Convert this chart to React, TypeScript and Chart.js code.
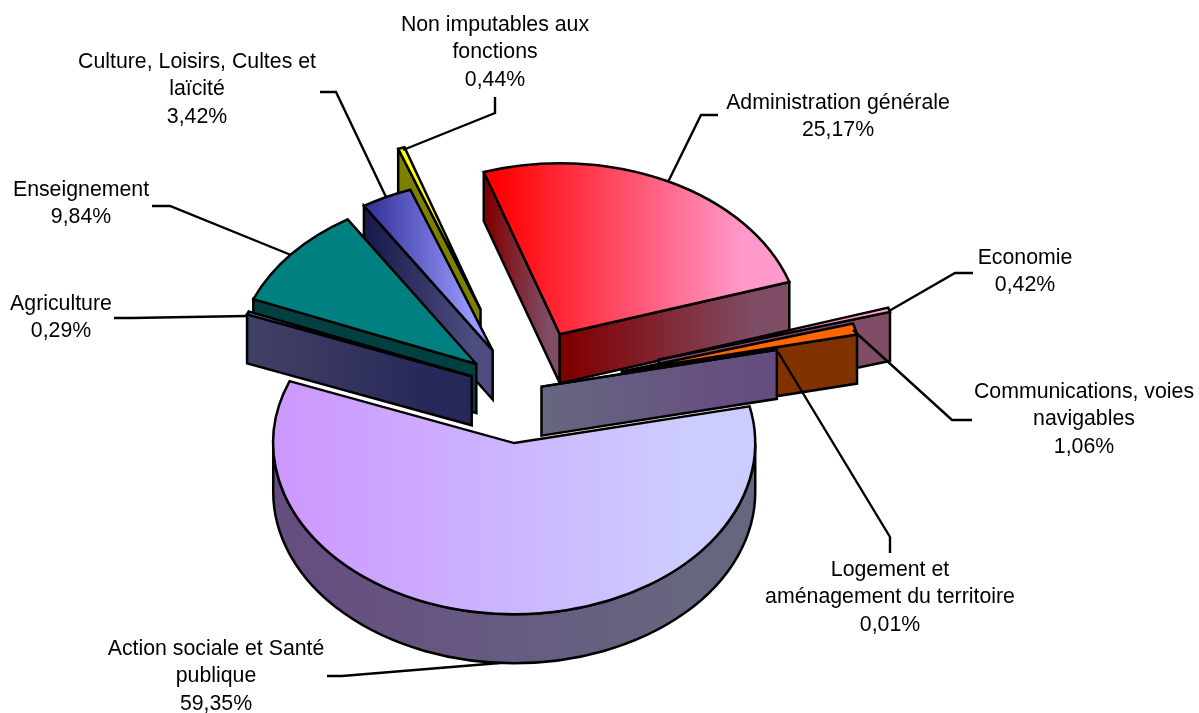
import React, { useEffect, useRef } from "react";
import { Chart, registerables } from "chart.js";

Chart.register(...registerables);

// ---------- data ----------
const categories: string[][] = [
  ["Administration générale"],
  ["Economie"],
  ["Communications, voies", "navigables"],
  ["Logement et", "aménagement du territoire"],
  ["Action sociale et Santé", "publique"],
  ["Agriculture"],
  ["Enseignement"],
  ["Culture, Loisirs, Cultes et", "laïcité"],
  ["Non imputables aux", "fonctions"],
];
const shares = [25.17, 0.42, 1.06, 0.01, 59.35, 0.29, 9.84, 3.42, 0.44];
const colorsFrom = ["#ff0000", "#ff99cc", "#ff6600", "#ccccff", "#cc99ff", "#8080cc", "#008080", "#333399", "#ffff00"];
const colorsTo = ["#ff99cc", "#ff99cc", "#ff6600", "#cc99ff", "#ccccff", "#4d4db0", "#008080", "#9999ff", "#ffff00"];

// ---------- presentation ----------
const explodePx = [88, 145, 105, 22, 75, 52, 57, 62, 120];
const paintOrder = [8, 7, 6, 5, 0, 1, 2, 3, 4];
const TILT = 0.71;
const DEPTH = 49;
const RADIUS = 241;
const FONT = '21.3px "Liberation Sans", Arial, sans-serif';
const LINE_H = 27.5;
const GRAD_START = 0.04;
const GRAD_END = 0.85;
const labelCenters: [number, number][] = [
  [838, 103], [1025, 258], [1084, 392], [890, 570], [216, 649], [61, 304], [81, 190], [197, 62], [495, 25],
];
const leaders: [number, number][][] = [
  [[668, 182], [701, 115], [718, 115]],
  [[889, 311], [955, 273], [973, 273]],
  [[853, 330], [952, 420], [972, 420]],
  [[778, 352], [890, 537], [890, 553]],
  [[500, 663], [342, 676], [327, 676]],
  [[247, 316], [131, 318], [114, 318]],
  [[291, 255], [170, 206], [152, 206]],
  [[386, 197], [336, 92], [320, 92]],
  [[403, 150], [495, 113], [495, 97]],
];

const half = (hex: string) => {
  const n = parseInt(hex.slice(1), 16);
  const p = (v: number) => Math.round(v / 2).toString(16).padStart(2, "0");
  return "#" + p((n >> 16) & 255) + p((n >> 8) & 255) + p(n & 255);
};

function hGrad(ctx: CanvasRenderingContext2D, x0: number, x1: number, a: string, b: string) {
  const g = ctx.createLinearGradient(x0, 0, x1 > x0 ? x1 : x0 + 1, 0);
  g.addColorStop(GRAD_START, a);
  g.addColorStop(GRAD_END, b);
  return g;
}

function paintShape(ctx: CanvasRenderingContext2D, fill: CanvasGradient | string) {
  ctx.fillStyle = fill;
  ctx.fill();
  ctx.stroke();
}

function drawSlice(ctx: CanvasRenderingContext2D, el: any, i: number) {
  const a0 = el.startAngle;
  const a1 = el.endAngle;
  const mid = (a0 + a1) / 2;
  const R = el.outerRadius;
  const ex = explodePx[i] * Math.cos(mid);
  const ey = explodePx[i] * Math.sin(mid) * TILT;
  const cx = el.x + ex;
  const cy = el.y + ey;
  const rim = (t: number): [number, number] => [cx + R * Math.cos(t), cy + R * TILT * Math.sin(t)];
  const wa = half(colorsFrom[i]);
  const wb = half(colorsTo[i]);

  ctx.save();
  ctx.strokeStyle = "#000";
  ctx.lineWidth = 2.5;
  ctx.lineJoin = "miter";
  ctx.miterLimit = 3;

  const face = (t: number) => {
    const [rx, ry] = rim(t);
    ctx.beginPath();
    ctx.moveTo(cx, cy);
    ctx.lineTo(rx, ry);
    ctx.lineTo(rx, ry + DEPTH);
    ctx.lineTo(cx, cy + DEPTH);
    ctx.closePath();
    paintShape(ctx, hGrad(ctx, Math.min(cx, rx), Math.max(cx, rx), wa, wb));
  };
  if (Math.cos(a0) < 0) face(a0);
  if (Math.cos(a1) > 0) face(a1);

  for (const k of [-1, 0, 1]) {
    const t0 = Math.max(a0, k * 2 * Math.PI);
    const t1 = Math.min(a1, Math.PI + k * 2 * Math.PI);
    if (t1 > t0) {
      ctx.beginPath();
      ctx.ellipse(cx, cy, R, R * TILT, 0, t0, t1);
      ctx.ellipse(cx, cy + DEPTH, R, R * TILT, 0, t1, t0, true);
      ctx.closePath();
      const xs = [rim(t0)[0], rim(t1)[0]];
      paintShape(ctx, hGrad(ctx, Math.min(...xs), Math.max(...xs), wa, wb));
    }
  }

  // top surface: the library's own arc, squashed by the tilt
  const xs = [0, Math.cos(a0) * R, Math.cos(a1) * R];
  for (const k of [-1, 0, 1, 2]) {
    const t = k * Math.PI;
    if (t > a0 && t < a1) xs.push(Math.cos(t) * R);
  }
  ctx.save();
  ctx.translate(cx, cy);
  ctx.scale(1, TILT);
  ctx.translate(-el.x, -el.y);
  el.options = {
    ...el.options,
    borderWidth: 0,
    offset: 0,
    backgroundColor: hGrad(ctx, el.x + Math.min(...xs), el.x + Math.max(...xs), colorsFrom[i], colorsTo[i]),
  };
  el.draw(ctx);
  ctx.restore();

  ctx.beginPath();
  ctx.moveTo(cx, cy);
  ctx.lineTo(...rim(a0));
  ctx.ellipse(cx, cy, R, R * TILT, 0, a0, a1);
  ctx.closePath();
  ctx.stroke();
  ctx.restore();
}

const pie3d = {
  id: "pie3d",
  beforeDatasetsDraw(chart: any) {
    const arcs = chart.getDatasetMeta(0).data;
    paintOrder.forEach((i) => drawSlice(chart.ctx, arcs[i], i));
    return false;
  },
  afterDraw(chart: any) {
    const ctx = chart.ctx as CanvasRenderingContext2D;
    ctx.save();
    ctx.strokeStyle = "#000";
    ctx.lineWidth = 2.4;
    leaders.forEach((pts) => {
      ctx.beginPath();
      pts.forEach(([x, y], j) => (j ? ctx.lineTo(x, y) : ctx.moveTo(x, y)));
      ctx.stroke();
    });
    ctx.fillStyle = "#000";
    ctx.font = FONT;
    ctx.textAlign = "center";
    ctx.textBaseline = "middle";
    categories.forEach((lines, i) => {
      const [x, y] = labelCenters[i];
      const all = [...lines, shares[i].toFixed(2).replace(".", ",") + "%"];
      all.forEach((t, j) => ctx.fillText(t, x, y + j * LINE_H));
    });
    ctx.restore();
  },
};

export default function App() {
  const ref = useRef<HTMLCanvasElement>(null);
  useEffect(() => {
    document.body.style.margin = "0";
    document.body.style.background = "#fff";
    const chart = new Chart(ref.current as HTMLCanvasElement, {
      type: "pie",
      data: {
        labels: categories,
        datasets: [{ data: shares, backgroundColor: colorsFrom, borderWidth: 0 }],
      },
      options: {
        animation: false,
        responsive: false,
        radius: RADIUS,
        rotation: -18.4,
        layout: { padding: { left: 0, right: 159, top: 67, bottom: 0 } },
        plugins: { legend: { display: false }, tooltip: { enabled: false } },
        events: [],
      } as any,
      plugins: [pie3d as any],
    });
    return () => chart.destroy();
  }, []);
  return <canvas ref={ref} width={1199} height={713} style={{ display: "block", width: 1199, height: 713 }} />;
}
